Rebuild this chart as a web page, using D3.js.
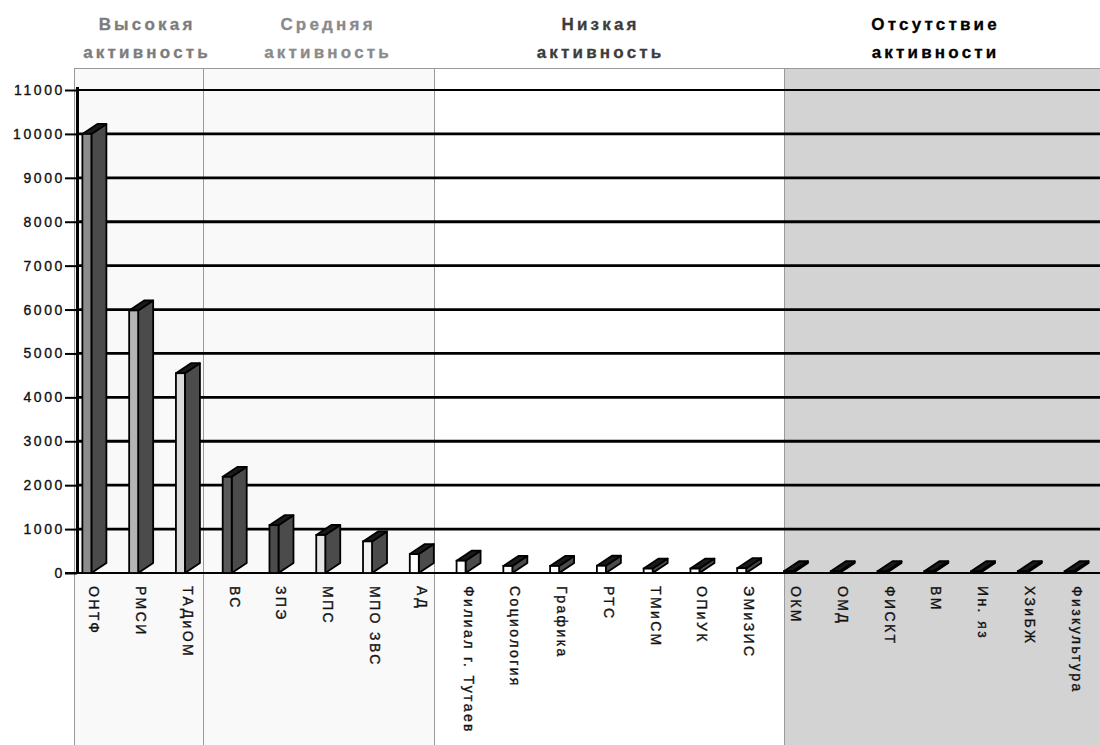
<!DOCTYPE html>
<html>
<head>
<meta charset="utf-8">
<script src="https://cdn.jsdelivr.net/npm/d3@7"></script>
<style>
body { margin: 0; background: #fff; }
svg { display: block; font-family: Arial, "Liberation Sans", sans-serif; }
</style>
</head>
<body>
<div id="main"></div>
<script>
// data
var categories = ["ОНТФ", "РМСИ", "ТАДиОМ", "ВС", "ЗПЭ", "МПС", "МПО ЗВС", "АД",
	"Филиал г. Тутаев", "Социология", "Графика", "РТС", "ТМиСМ", "ОПиУК", "ЭМиЗИС",
	"ОКМ", "ОМД", "ФИСКТ", "ВМ", "Ин. яз", "ХЗиБЖ", "Физкультура"];
var values = [10000, 5980, 4550, 2190, 1090, 865, 720, 430,
	280, 160, 160, 165, 100, 100, 110,
	40, 40, 40, 40, 40, 40, 40];
var yTicks = [0, 1000, 2000, 3000, 4000, 5000, 6000, 7000, 8000, 9000, 10000, 11000];
var groupTitles = [["Высокая", "активность"], ["Средняя", "активность"],
	["Низкая", "активность"], ["Отсутствие", "активности"]];

// layout / style
var width = 1100, height = 745;
var sectionX = [74, 203, 434, 784, 1100];
var sectionFill = ["#f9f9f9", "#f9f9f9", "#ffffff", "#d3d3d3"];
var titleColor = ["#7c7c7c", "#8a8a8a", "#3c3c3c", "#000000"];
var titleShift = [7, 8, -10, -8];
var frontFill = ["#8c8c8c", "#b4b4b4", "#dcdcdc", "#5a5a5a", "#4c4c4c", "#e6e6e6", "#f2f2f2", "#ffffff",
	"#ffffff", "#ffffff", "#ffffff", "#ffffff", "#ffffff", "#ffffff", "#ffffff",
	"#ffffff", "#ffffff", "#ffffff", "#ffffff", "#ffffff", "#ffffff", "#ffffff"];
var sideFill = "#4b4b4b", topFill = "#1a1a1a";
var frontW = 9, depthX = 15, depthY = 10;

var svg = d3.select('#main').append('svg')
			.attr('width', width)
			.attr('height', height);

var x = d3.scaleBand()
		  .domain(categories)
		  .range([71, 1100]);
var y = d3.scaleLinear()
		  .domain([0, 11000])
		  .range([573, 90]);

// section backgrounds
for (var i = 0; i < 4; i++) {
	svg.append('rect')
	   .attr('x', sectionX[i] + 0.5)
	   .attr('y', 68.5)
	   .attr('width', sectionX[i + 1] - sectionX[i])
	   .attr('height', height)
	   .attr('fill', sectionFill[i])
	   .attr('stroke', '#9a9a9a')
	   .attr('stroke-width', 1);

	var cx = (sectionX[i] + sectionX[i + 1]) / 2 + titleShift[i];
	var t = svg.append('text')
			   .attr('text-anchor', 'middle')
			   .attr('fill', titleColor[i])
			   .attr('stroke', titleColor[i])
			   .attr('stroke-width', 0.3)
			   .style('font-size', '17px')
			   .style('font-weight', 'bold')
			   .style('letter-spacing', '3.2px');
	t.append('tspan').attr('x', cx + 1.6).attr('y', 30).text(groupTitles[i][0]);
	t.append('tspan').attr('x', cx + 1.6).attr('y', 58).text(groupTitles[i][1]);
}

// gridlines
svg.selectAll('line.grid')
   .data(yTicks.filter(function(d) { return d > 0; }))
   .enter().append('line')
   .attr('class', 'grid')
   .attr('x1', 77)
   .attr('x2', 1100)
   .attr('y1', function(d) { return y(d); })
   .attr('y2', function(d) { return y(d); })
   .attr('stroke', '#000')
   .attr('stroke-width', function(d) { return d == 11000 ? 2 : 2.8; });

// y axis
var yAxis = d3.axisLeft(y)
			  .tickValues(yTicks)
			  .tickSize(12)
			  .tickPadding(3)
			  .tickFormat(d3.format('d'));
var gy = svg.append('g')
			.attr('transform', 'translate(77,0)')
			.call(yAxis);
gy.select('.domain').remove();
gy.selectAll('.tick line').attr('stroke', '#000').attr('stroke-width', 2);
gy.selectAll('.tick text')
  .attr('fill', '#111')
  .attr('stroke', '#111')
  .attr('stroke-width', 0.35)
  .attr('dx', 3)
  .style('font-size', '14px')
  .style('letter-spacing', '2.6px')
  .style('font-family', 'Arial, "Liberation Sans", sans-serif');

svg.append('line')
   .attr('x1', 77.5).attr('x2', 77.5)
   .attr('y1', 87).attr('y2', 574)
   .attr('stroke', '#000')
   .attr('stroke-width', 3);

// baseline
svg.append('line')
   .attr('x1', 65).attr('x2', 1100)
   .attr('y1', y(0)).attr('y2', y(0))
   .attr('stroke', '#000')
   .attr('stroke-width', 1.8);

// 3d bars
var bars = svg.selectAll('g.bar')
			  .data(categories)
			  .enter().append('g')
			  .attr('class', 'bar');

function barLeft(d) { return x(d) + x.bandwidth() / 2 - (frontW + depthX) / 2; }

bars.append('path')
	.attr('d', function(d, i) {
		var x0 = barLeft(d) + frontW, yt = y(values[i]), y0 = y(0);
		return "M" + x0 + "," + yt + "L" + (x0 + depthX) + "," + (yt - depthY) +
			"L" + (x0 + depthX) + "," + (y0 - depthY) + "L" + x0 + "," + y0 + "Z";
	})
	.attr('fill', sideFill)
	.attr('stroke', '#000')
	.attr('stroke-width', 1.8)
	.attr('stroke-linejoin', 'round');

bars.append('path')
	.attr('d', function(d, i) {
		var x0 = barLeft(d), yt = y(values[i]);
		return "M" + x0 + "," + yt + "L" + (x0 + frontW) + "," + yt +
			"L" + (x0 + frontW + depthX) + "," + (yt - depthY) +
			"L" + (x0 + depthX) + "," + (yt - depthY) + "Z";
	})
	.attr('fill', topFill)
	.attr('stroke', '#000')
	.attr('stroke-width', 1.8)
	.attr('stroke-linejoin', 'round');

bars.append('rect')
	.attr('x', function(d) { return barLeft(d); })
	.attr('y', function(d, i) { return y(values[i]); })
	.attr('width', frontW)
	.attr('height', function(d, i) { return y(0) - y(values[i]); })
	.attr('fill', function(d, i) { return frontFill[i]; })
	.attr('stroke', '#000')
	.attr('stroke-width', 1.8);

// category labels, rotated
svg.selectAll('text.cat')
   .data(categories)
   .enter().append('text')
   .attr('class', 'cat')
   .attr('transform', function(d) {
		return 'translate(' + (x(d) + x.bandwidth() / 2 - 5) + ',586) rotate(90)';
   })
   .attr('fill', '#111')
   .attr('stroke', '#111')
   .attr('stroke-width', 0.35)
   .style('font-size', '14px')
   .style('letter-spacing', '2.4px')
   .text(function(d) { return d; });
</script>
</body>
</html>
